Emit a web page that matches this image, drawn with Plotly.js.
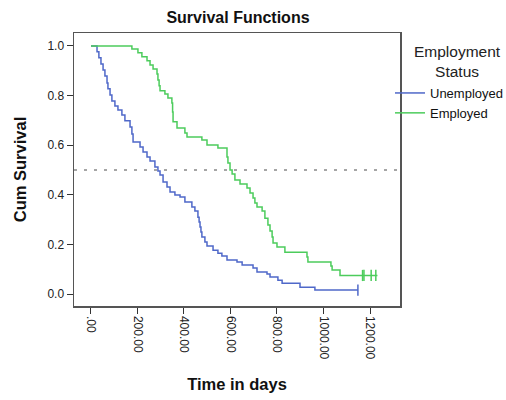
<!DOCTYPE html>
<html>
<head>
<meta charset="utf-8">
<script src="https://cdn.plot.ly/plotly-3.0.1.min.js"></script>
<style>html,body{margin:0;padding:0;background:#fff;}#chart{width:506px;height:400px;}</style>
</head>
<body>
<div id="chart"></div>
<script>
// Unemployed: event times (days) and cumulative survival after each drop
const unempTime = [0, 26, 34, 43, 52, 60, 69, 73, 82, 90, 103, 116, 133, 146, 168, 176, 181, 211, 224, 241, 254, 275, 288, 297, 310, 327, 340, 361, 383, 404, 434, 447, 460, 465, 469, 473, 477, 490, 499, 525, 546, 563, 585, 628, 650, 697, 714, 757, 770, 804, 822, 899, 963, 1148];
const unempSurv = [1.0, 0.976, 0.952, 0.927, 0.903, 0.879, 0.851, 0.827, 0.802, 0.778, 0.758, 0.742, 0.722, 0.698, 0.673, 0.645, 0.613, 0.593, 0.573, 0.552, 0.536, 0.512, 0.496, 0.480, 0.452, 0.431, 0.411, 0.399, 0.391, 0.371, 0.351, 0.335, 0.310, 0.290, 0.270, 0.250, 0.230, 0.210, 0.194, 0.177, 0.165, 0.153, 0.137, 0.129, 0.117, 0.105, 0.089, 0.081, 0.069, 0.056, 0.044, 0.028, 0.016, 0.016];
const unempCensTime = [1148];
const unempCensSurv = [0.016];

// Employed
const empTime = [0, 176, 202, 219, 241, 254, 267, 284, 288, 293, 297, 318, 331, 348, 351, 353, 370, 404, 413, 477, 499, 546, 585, 589, 598, 607, 619, 641, 671, 684, 697, 705, 714, 736, 748, 761, 770, 779, 783, 800, 834, 929, 933, 1032, 1037, 1071, 1232];
const empSurv = [1.0, 0.988, 0.972, 0.956, 0.940, 0.923, 0.907, 0.887, 0.863, 0.839, 0.819, 0.806, 0.790, 0.770, 0.734, 0.694, 0.669, 0.649, 0.633, 0.621, 0.601, 0.589, 0.552, 0.528, 0.500, 0.484, 0.460, 0.444, 0.427, 0.407, 0.387, 0.367, 0.351, 0.335, 0.306, 0.278, 0.254, 0.230, 0.206, 0.190, 0.169, 0.149, 0.129, 0.113, 0.097, 0.075, 0.075];
const empCensTime = [1168, 1174, 1205, 1225];
const empCensSurv = [0.075, 0.075, 0.075, 0.075];

const xTickVals = [0, 200, 400, 600, 800, 1000, 1200];
const xTickText = ['.00', '200.00', '400.00', '600.00', '800.00', '1000.00', '1200.00'];
const yTickVals = [0, 0.2, 0.4, 0.6, 0.8, 1.0];
const yTickText = ['0.0', '0.2', '0.4', '0.6', '0.8', '1.0'];
const refLevel = 0.5;

const blue = '#4f68c9';
const green = '#4ccc5c';
const F = 'Liberation Sans, Arial, sans-serif';

const traces = [
  {x: unempTime, y: unempSurv, type: 'scatter', mode: 'lines', name: 'Unemployed',
   line: {color: blue, width: 1.5, shape: 'hv'}},
  {x: empTime, y: empSurv, type: 'scatter', mode: 'lines', name: 'Employed',
   line: {color: green, width: 1.5, shape: 'hv'}},
  {x: unempCensTime, y: unempCensSurv, type: 'scatter', mode: 'markers', showlegend: false,
   marker: {symbol: 'line-ns', size: 8, line: {color: blue, width: 1.5}}},
  {x: empCensTime, y: empCensSurv, type: 'scatter', mode: 'markers', showlegend: false,
   marker: {symbol: 'line-ns', size: 8, line: {color: green, width: 1.5}}}
];

// plot area: x 74..400 px, y 33..306 px
const W = 506, H = 400, ML = 74, MR = 4;
const innerW = W - ML - MR;
const dom = (400 - ML) / innerW;

const layout = {
  width: W, height: H,
  margin: {l: ML, r: MR, t: 33, b: 94, autoexpand: false},
  paper_bgcolor: '#fff', plot_bgcolor: '#fff',
  font: {family: F, color: '#222'},
  title: {text: '<b>Survival Functions</b>', font: {size: 16, family: F, color: '#111'},
          x: 238 / W, xref: 'container', xanchor: 'center', y: 1 - 17 / H, yanchor: 'middle'},
  xaxis: {
    domain: [0, dom],
    range: [-73, 1329], tickvals: xTickVals, ticktext: xTickText, tickangle: 90,
    ticks: 'outside', ticklen: 6, tickcolor: '#333', tickwidth: 1,
    tickfont: {size: 12, family: F, color: '#222'},
    showgrid: false, zeroline: false, showline: true, mirror: true,
    linecolor: '#555', linewidth: 1.5,
    title: {text: '<b>Time in days</b>', font: {size: 16.5, family: F, color: '#111'}, standoff: 20}
  },
  yaxis: {
    range: [-0.048, 1.052], tickvals: yTickVals, ticktext: yTickText,
    ticks: 'outside', ticklen: 6, tickcolor: '#333', tickwidth: 1,
    tickfont: {size: 12, family: F, color: '#222'},
    showgrid: false, zeroline: false, showline: true, mirror: true,
    linecolor: '#555', linewidth: 1.5,
    title: {text: '<b>Cum Survival</b>', font: {size: 16.5, family: F, color: '#111'}, standoff: 16}
  },
  shapes: [{type: 'line', xref: 'x domain', x0: 0, x1: 1, yref: 'y', y0: refLevel, y1: refLevel,
            line: {color: '#888', width: 1.5, dash: '3px,7px'}}],
  annotations: [{
    text: 'Employment<br>Status', xref: 'paper', yref: 'paper',
    x: (457 - ML) / innerW, xanchor: 'center', y: (306 - 41) / 273, yanchor: 'top',
    showarrow: false, align: 'center', font: {size: 15.5, family: F, color: '#222'}
  }],
  legend: {
    x: (390 - ML) / innerW, xanchor: 'left', y: (306 - 78) / 273, yanchor: 'top',
    bgcolor: 'rgba(0,0,0,0)', borderwidth: 0,
    font: {size: 13, family: F, color: '#111'},
    itemwidth: 30, tracegroupgap: 0
  },
  showlegend: true
};

Plotly.newPlot('chart', traces, layout, {staticPlot: true, displayModeBar: false});
</script>
</body>
</html>
